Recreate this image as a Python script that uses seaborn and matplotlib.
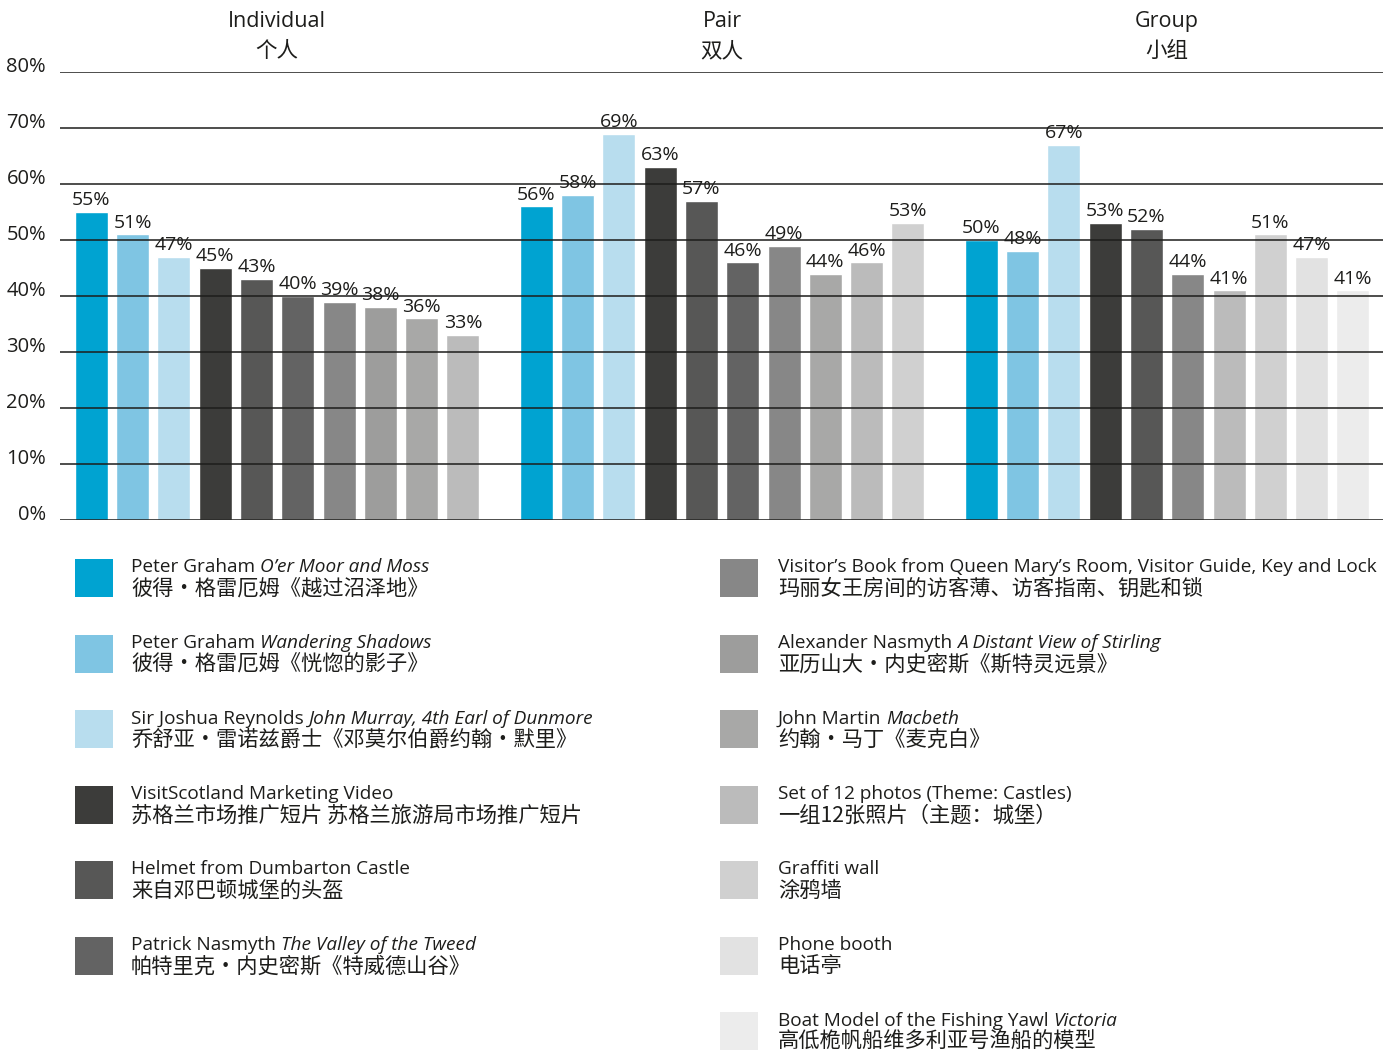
import matplotlib
matplotlib.use("Agg")
import matplotlib.pyplot as plt
from matplotlib.patches import Rectangle
import numpy as np
import pandas as pd
import seaborn as sns

# ---- data -------------------------------------------------------------
categories = ["Individual", "Pair", "Group"]
categories_zh = ["个人", "双人", "小组"]

# exhibit names: plain part, italic title part, Chinese name
item_plain = [
    "Peter Graham ",
    "Peter Graham ",
    "Sir Joshua Reynolds ",
    "VisitScotland Marketing Video",
    "Helmet from Dumbarton Castle",
    "Patrick Nasmyth ",
    "Visitor’s Book from Queen Mary’s Room, Visitor Guide, Key and Lock",
    "Alexander Nasmyth ",
    "John Martin ",
    "Set of 12 photos (Theme: Castles)",
    "Graffiti wall",
    "Phone booth",
    "Boat Model of the Fishing Yawl ",
]
item_italic = [
    "O’er Moor and Moss",
    "Wandering Shadows",
    "John Murray, 4th Earl of Dunmore",
    "",
    "",
    "The Valley of the Tweed",
    "",
    "A Distant View of Stirling",
    "Macbeth",
    "",
    "",
    "",
    "Victoria",
]
item_zh = [
    "彼得・格雷厄姆《越过沼泽地》",
    "彼得・格雷厄姆《恍惚的影子》",
    "乔舒亚・雷诺兹爵士《邓莫尔伯爵约翰・默里》",
    "苏格兰市场推广短片 苏格兰旅游局市场推广短片",
    "来自邓巴顿城堡的头盔",
    "帕特里克・内史密斯《特威德山谷》",
    "玛丽女王房间的访客薄、访客指南、钥匙和锁",
    "亚历山大・内史密斯《斯特灵远景》",
    "约翰・马丁《麦克白》",
    "一组12张照片（主题：城堡）",
    "涂鸦墙",
    "电话亭",
    "高低桅帆船维多利亚号渔船的模型",
]
item_colors = [
    "#00a3d1", "#7fc5e3", "#b8ddee",
    "#3c3c3a", "#575756", "#636363",
    "#878787", "#9d9d9c", "#a8a8a7",
    "#bbbbbb", "#d0d0d0", "#e2e2e2", "#ececec",
]

# items shown in each visitor category, and their shares (%)
individual_items = [0, 1, 2, 3, 4, 5, 6, 7, 8, 9]
individual_values = [55, 51, 47, 45, 43, 40, 39, 38, 36, 33]
pair_items = [0, 1, 2, 3, 4, 5, 6, 8, 9, 10]
pair_values = [56, 58, 69, 63, 57, 46, 49, 44, 46, 53]
group_items = [0, 1, 2, 3, 4, 6, 9, 10, 11, 12]
group_values = [50, 48, 67, 53, 52, 44, 41, 51, 47, 41]

# ---- long table ---------------------------------------------------------
GROUP_STEP = 10.78
rows = []
for g, (its, vals) in enumerate([(individual_items, individual_values),
                                 (pair_items, pair_values),
                                 (group_items, group_values)]):
    for i, (it, v) in enumerate(zip(its, vals)):
        rows.append({"pos": g * GROUP_STEP + i, "item": it, "value": v,
                     "category": categories[g]})
df = pd.DataFrame(rows)

# ---- style ---------------------------------------------------------------
sns.set_style("white")
FONTS = ["Open Sans", "Noto Sans CJK SC", "DejaVu Sans"]
plt.rcParams["font.family"] = FONTS
plt.rcParams["text.color"] = "#1d1d1b"
INK = "#1d1d1b"
ZH = ["Noto Sans CJK SC", "DejaVu Sans"]

W, H = 1398, 1055
fig = plt.figure(figsize=(W / 100, H / 100), dpi=100)
ax = fig.add_axes([60 / W, 1 - 520 / H, (1383 - 60) / W, (520 - 72) / H])

palette = {i: c for i, c in enumerate(item_colors)}
sns.barplot(data=df, x="pos", y="value", hue="item", palette=palette,
            native_scale=True, dodge=False, width=0.8, errorbar=None,
            saturation=1, legend=False, ax=ax)

for cont in ax.containers:
    ax.bar_label(cont, fmt="%g%%", padding=2, fontsize=14, color=INK)

ax.set_xlim(-0.76, 2 * GROUP_STEP + 9 + 0.73)
ax.set_ylim(0, 80)
ax.set_xticks([])
ax.set_xlabel("")
ax.set_ylabel("")
ticks = list(range(0, 81, 10))
ax.set_yticks(ticks)
ax.set_yticklabels([f"{t}%" for t in ticks], fontsize=14.5)
for lab in ax.get_yticklabels():
    lab.set_va("baseline")
ax.tick_params(axis="y", length=0, pad=10, colors=INK)
ax.yaxis.grid(True, color=INK, linewidth=1.1)
ax.set_axisbelow(False)
for s in ax.spines.values():
    s.set_visible(False)

# category headings
for g, (en, zh) in enumerate(zip(categories, categories_zh)):
    cx = g * GROUP_STEP + 4.5
    ax.text(cx, 89.0, en, ha="center", va="center", fontsize=15.5, clip_on=False)
    ax.text(cx, 83.7, zh, ha="center", va="center", fontsize=15.5,
            family=ZH, fontweight="light", clip_on=False)

# ---- legend (pixel coordinates) -----------------------------------------
lax = fig.add_axes([0, 0, 1, 1])
lax.set_xlim(0, W)
lax.set_ylim(H, 0)
lax.axis("off")
lax.patch.set_alpha(0)

fig.canvas.draw()
renderer = fig.canvas.get_renderer()

left_col = list(range(6))
right_col = list(range(6, 13))
for col, (sx, tx, items) in enumerate([(75, 131, left_col), (720, 778, right_col)]):
    for k, it in enumerate(items):
        y0 = 559 + k * 75.5
        lax.add_patch(Rectangle((sx, y0), 38, 38, color=item_colors[it], lw=0))
        plain = item_plain[it].rstrip()
        t = lax.text(tx, y0 + 8.5, plain, fontsize=13.7, va="center", ha="left")
        if item_italic[it]:
            bb = t.get_window_extent(renderer)
            lax.text(tx + bb.width + 5, y0 + 8.5, item_italic[it], fontsize=13.7,
                     style="italic", va="center", ha="left")
        lax.text(tx, y0 + 30, item_zh[it], fontsize=15.3, family=ZH,
                 fontweight="light", va="center", ha="left")

fig.savefig("out.png", dpi=100)
